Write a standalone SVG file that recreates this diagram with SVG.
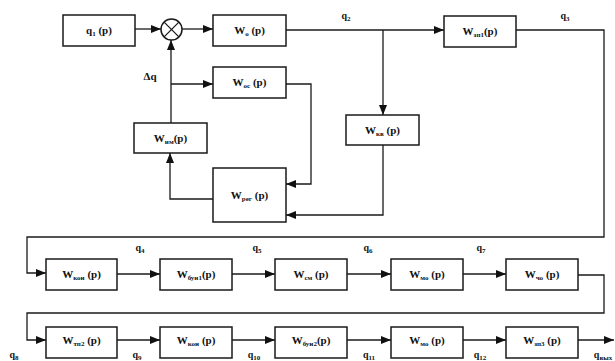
<svg xmlns="http://www.w3.org/2000/svg" width="615" height="361" viewBox="0 0 615 361">
<style>
.b{fill:#fff;stroke:#1a1a1a;stroke-width:1.5}
.c{fill:none;stroke:#1a1a1a;stroke-width:1.3}
.t{font-family:"Liberation Serif","DejaVu Serif",serif;font-weight:bold;font-size:11px;fill:#111;text-anchor:middle}
.l{font-family:"Liberation Serif","DejaVu Serif",serif;font-weight:bold;font-size:10px;fill:#111;text-anchor:middle}
.s{font-size:7px}
</style>
<defs>
<marker id="a" viewBox="0 0 10 8" refX="10" refY="4" markerWidth="10" markerHeight="8" markerUnits="userSpaceOnUse" orient="auto">
<path d="M0,0 L10,4 L0,8 Z" fill="#111"/>
</marker>
</defs>
<g id="connectors" class="c">
<path d="M135,29 H161" marker-end="url(#a)"/>
<path d="M182,29 H213" marker-end="url(#a)"/>
<path d="M286,30 H444" marker-end="url(#a)"/>
<path d="M383,30 V115" marker-end="url(#a)"/>
<path d="M516,30 H604 V237 H27 V273 H46" marker-end="url(#a)"/>
<path d="M117,274 H160" marker-end="url(#a)"/>
<path d="M232,274 H275" marker-end="url(#a)"/>
<path d="M347,274 H391" marker-end="url(#a)"/>
<path d="M463,274 H506" marker-end="url(#a)"/>
<path d="M578,275 H604 V313 H27 V340 H46" marker-end="url(#a)"/>
<path d="M117,340 H160" marker-end="url(#a)"/>
<path d="M232,340 H275" marker-end="url(#a)"/>
<path d="M347,340 H391" marker-end="url(#a)"/>
<path d="M463,340 H506" marker-end="url(#a)"/>
<path d="M578,340 H614" marker-end="url(#a)"/>
<path d="M286,84 H311 V184 H286" marker-end="url(#a)"/>
<path d="M383,145 V215 H286" marker-end="url(#a)"/>
<path d="M213,199 H170 V153" marker-end="url(#a)"/>
<path d="M171,123 V40" marker-end="url(#a)"/>
<path d="M171,84 H213" marker-end="url(#a)"/>
</g>
<g id="sum">
<circle cx="171.5" cy="29.5" r="10.5" class="b"/>
<path d="M164.1,22.1 L178.9,36.9 M178.9,22.1 L164.1,36.9" class="c"/>
</g>
<g id="q1"><rect x="63" y="15" width="72" height="31" class="b"/><text x="99" y="34" class="t">q<tspan class="s" dy="2">1</tspan><tspan dy="-2"> (p)</tspan></text></g>
<g id="Wo"><rect x="213" y="15" width="73" height="31" class="b"/><text x="249.5" y="34" class="t">W<tspan class="s" dy="2">o</tspan><tspan dy="-2"> (p)</tspan></text></g>
<g id="Wzp1"><rect x="444" y="16" width="72" height="31" class="b"/><text x="480" y="35" class="t">W<tspan class="s" dy="2">зп1</tspan><tspan dy="-2">(p)</tspan></text></g>
<g id="Wos"><rect x="213" y="67" width="73" height="31" class="b"/><text x="249.5" y="86" class="t">W<tspan class="s" dy="2">ос</tspan><tspan dy="-2"> (p)</tspan></text></g>
<g id="Wim"><rect x="134" y="123" width="73" height="30" class="b"/><text x="170.5" y="142" class="t">W<tspan class="s" dy="2">им</tspan><tspan dy="-2">(p)</tspan></text></g>
<g id="Wkv"><rect x="346" y="115" width="73" height="30" class="b"/><text x="382.5" y="134" class="t">W<tspan class="s" dy="2">кв</tspan><tspan dy="-2"> (p)</tspan></text></g>
<g id="Wreg"><rect x="213" y="168" width="73" height="54" class="b"/><text x="249.5" y="199" class="t">W<tspan class="s" dy="2">рег</tspan><tspan dy="-2"> (p)</tspan></text></g>
<g id="Wkon1"><rect x="46" y="259" width="71" height="31" class="b"/><text x="81.5" y="278" class="t">W<tspan class="s" dy="2">кон</tspan><tspan dy="-2"> (p)</tspan></text></g>
<g id="Wbun1"><rect x="160" y="259" width="72" height="31" class="b"/><text x="196" y="278" class="t">W<tspan class="s" dy="2">бун1</tspan><tspan dy="-2">(p)</tspan></text></g>
<g id="Wsm"><rect x="275" y="259" width="72" height="31" class="b"/><text x="311" y="278" class="t">W<tspan class="s" dy="2">см</tspan><tspan dy="-2"> (p)</tspan></text></g>
<g id="Wmo1"><rect x="391" y="259" width="72" height="31" class="b"/><text x="427" y="278" class="t">W<tspan class="s" dy="2">мо</tspan><tspan dy="-2"> (p)</tspan></text></g>
<g id="Wcho"><rect x="506" y="259" width="72" height="31" class="b"/><text x="542" y="278" class="t">W<tspan class="s" dy="2">чо</tspan><tspan dy="-2"> (p)</tspan></text></g>
<g id="Wtp2"><rect x="46" y="327" width="71" height="31" class="b"/><text x="81.5" y="344" class="t">W<tspan class="s" dy="2">тп2</tspan><tspan dy="-2"> (p)</tspan></text></g>
<g id="Wkon2"><rect x="160" y="327" width="72" height="31" class="b"/><text x="196" y="344" class="t">W<tspan class="s" dy="2">кон</tspan><tspan dy="-2"> (p)</tspan></text></g>
<g id="Wbun2"><rect x="275" y="327" width="72" height="31" class="b"/><text x="311" y="344" class="t">W<tspan class="s" dy="2">бун2</tspan><tspan dy="-2">(p)</tspan></text></g>
<g id="Wmo2"><rect x="391" y="327" width="72" height="31" class="b"/><text x="427" y="344" class="t">W<tspan class="s" dy="2">мо</tspan><tspan dy="-2"> (p)</tspan></text></g>
<g id="Wzp3"><rect x="506" y="327" width="72" height="31" class="b"/><text x="542" y="344" class="t">W<tspan class="s" dy="2">зп3</tspan><tspan dy="-2"> (p)</tspan></text></g>
<g id="labels">
<text x="150" y="80" class="t" font-size="12">Δq</text>
<text x="346" y="19" class="l">q<tspan class="s" dy="2">2</tspan></text>
<text x="565" y="19" class="l">q<tspan class="s" dy="2">3</tspan></text>
<text x="140" y="251" class="l">q<tspan class="s" dy="2">4</tspan></text>
<text x="257" y="251" class="l">q<tspan class="s" dy="2">5</tspan></text>
<text x="368" y="251" class="l">q<tspan class="s" dy="2">6</tspan></text>
<text x="481" y="251" class="l">q<tspan class="s" dy="2">7</tspan></text>
<text x="14" y="358" class="l">q<tspan class="s" dy="2">8</tspan></text>
<text x="137" y="358" class="l">q<tspan class="s" dy="2">9</tspan></text>
<text x="254" y="358" class="l">q<tspan class="s" dy="2">10</tspan></text>
<text x="369" y="358" class="l">q<tspan class="s" dy="2">11</tspan></text>
<text x="480" y="358" class="l">q<tspan class="s" dy="2">12</tspan></text>
<text x="603" y="358" class="l">q<tspan class="s" dy="2">вых</tspan></text>
</g>
</svg>
